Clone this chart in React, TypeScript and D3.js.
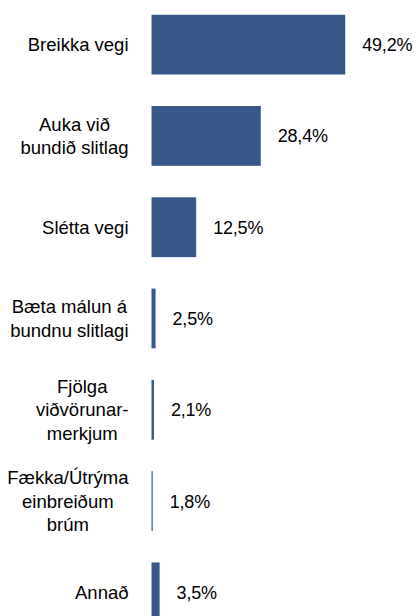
import React, { useEffect, useRef } from 'react';
import * as d3 from 'd3';

const WIDTH = 419;
const HEIGHT = 616;
const BAR_COLOR = "#36598a";
const FONT = "'Liberation Sans', Arial, sans-serif";

// category labels, one entry per line of the label
const CATEGORIES = [
    ["Breikka vegi"],
    ["Auka við", "bundið slitlag"],
    ["Slétta vegi"],
    ["Bæta málun á", "bundnu slitlagi"],
    ["Fjölga", "viðvörunar-", "merkjum"],
    ["Fækka/Útrýma", "einbreiðum", "brúm"],
    ["Annað"],
];
const VALUES = [49.2, 28.4, 12.5, 2.5, 2.1, 1.8, 3.5];
// the value axis of the original does not start at zero
const X_DOMAIN = [1.5, 50];

const isLocale = d3.formatLocale({ decimal: ",", thousands: ".", grouping: [3], currency: ["", " kr."] });
const fmt = isLocale.format(".1f");

export default function App() {
    const ref = useRef<SVGSVGElement>(null);

    useEffect(() => {
        if (!ref.current) return;
        const svg = d3.select(ref.current);
        svg.selectAll("*").remove();

        const y = d3.scaleBand<number>()
            .domain(d3.range(VALUES.length))
            .range([-1, 638])
            .paddingInner(0.345)
            .paddingOuter(0.1725);

        const x = d3.scaleLinear()
            .domain(X_DOMAIN)
            .range([151.5, 348.5]);

        svg.selectAll("rect.bar")
            .data(VALUES)
            .join("rect")
            .attr("class", "bar")
            .attr("x", x(X_DOMAIN[0]))
            .attr("y", (_, i) => y(i)!)
            .attr("width", d => Math.max(0, x(d) - x(X_DOMAIN[0])))
            .attr("height", y.bandwidth())
            .attr("fill", BAR_COLOR);

        svg.selectAll("text.value")
            .data(VALUES)
            .join("text")
            .attr("class", "value")
            .attr("x", d => x(d) + 17)
            .attr("y", (_, i) => y(i)! + y.bandwidth() / 2)
            .attr("dy", "0.36em")
            .attr("font-family", FONT)
            .attr("font-size", 18)
            .attr("letter-spacing", -0.2)
            .attr("fill", "#000")
            .text(d => fmt(d) + "%");

        // category labels: lines centred on each other, block right-aligned
        const LINE_H = 23.5;
        const RIGHT = 128.5;
        CATEGORIES.forEach((lines, i) => {
            const cy = y(i)! + y.bandwidth() / 2;
            const g = svg.append("g");
            const texts = g.selectAll("text")
                .data(lines)
                .join("text")
                .attr("y", (_, j) => cy + (j - (lines.length - 1) / 2) * LINE_H)
                .attr("dy", "0.36em")
                .attr("text-anchor", "middle")
                .attr("font-family", FONT)
                .attr("font-size", 18.5)
                .attr("fill", "#000")
                .text(d => d);
            let maxW = 0;
            texts.each(function () {
                maxW = Math.max(maxW, (this as SVGTextElement).getComputedTextLength());
            });
            texts.attr("x", RIGHT - maxW / 2);
        });
    }, []);

    return (
        <svg ref={ref} width={WIDTH} height={HEIGHT}
            style={{ position: "absolute", left: 0, top: 0, background: "#fff" }} />
    );
}
